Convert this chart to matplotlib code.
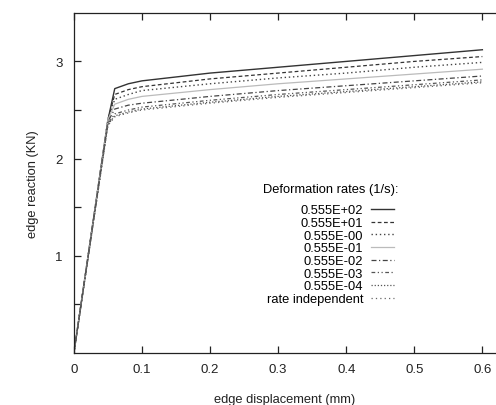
import numpy as np
import matplotlib
matplotlib.use("Agg")
import matplotlib.pyplot as plt

plt.rcParams['font.family'] = ['Liberation Sans', 'DejaVu Sans']

# displacement (mm), shared by all curves
disp = [0, 0.05, 0.06, 0.08, 0.1, 0.2, 0.3, 0.4, 0.5, 0.6]

# edge reaction (KN) for every deformation rate
r_e02 = [0, 2.40, 2.72, 2.77, 2.80, 2.88, 2.94, 3.00, 3.06, 3.12]
r_e01 = [0, 2.40, 2.66, 2.71, 2.74, 2.82, 2.88, 2.94, 3.00, 3.05]
r_e00 = [0, 2.40, 2.61, 2.66, 2.70, 2.77, 2.83, 2.88, 2.94, 2.99]
r_em1 = [0, 2.40, 2.56, 2.61, 2.64, 2.71, 2.77, 2.82, 2.87, 2.92]
r_em2 = [0, 2.38, 2.51, 2.55, 2.57, 2.64, 2.70, 2.75, 2.80, 2.85]
r_em3 = [0, 2.36, 2.46, 2.50, 2.53, 2.60, 2.66, 2.71, 2.76, 2.81]
r_em4 = [0, 2.35, 2.44, 2.48, 2.51, 2.58, 2.64, 2.69, 2.74, 2.79]
r_ind = [0, 2.34, 2.43, 2.47, 2.50, 2.57, 2.63, 2.68, 2.73, 2.78]

labels = ['0.555E+02', '0.555E+01', '0.555E-00', '0.555E-01',
          '0.555E-02', '0.555E-03', '0.555E-04', 'rate independent']

xticks = [0, 0.1, 0.2, 0.3, 0.4, 0.5, 0.6]
xticklabels = ['0', '0.1', '0.2', '0.3', '0.4', '0.5', '0.6']
yticks = [0.5, 1, 1.5, 2, 2.5, 3]
yticklabels = ['', '1', '', '2', '', '3']

series = [r_e02, r_e01, r_e00, r_em1, r_em2, r_em3, r_em4, r_ind]
styles = [
    dict(color='#333333', ls='-', lw=1.0),
    dict(color='#333333', ls=(0, (3, 2)), lw=0.9),
    dict(color='#444444', ls=(0, (1, 2)), lw=1.0),
    dict(color='#bbbbbb', ls='-', lw=0.9),
    dict(color='#444444', ls=(0, (4, 2, 1, 2)), lw=0.9),
    dict(color='#555555', ls=(0, (3, 2, 1, 2, 1, 2)), lw=0.9),
    dict(color='#555555', ls=(0, (1, 1.5)), lw=0.9),
    dict(color='#666666', ls=(0, (1, 2.5)), lw=0.9),
]

fig = plt.figure(figsize=(4.96, 4.06), dpi=100)
ax = fig.add_axes([0.149, 0.128, 0.851, 0.838])

for y, lab, st in zip(series, labels, styles):
    ax.plot(disp, y, label=lab, **st)

ax.set_xlim(0, 0.62)
ax.set_ylim(0, 3.5)
ax.set_xticks(xticks)
ax.set_xticklabels(xticklabels)
ax.set_yticks(yticks)
ax.set_yticklabels(yticklabels)
ax.tick_params(direction='in', length=5, width=0.9, top=True, labelsize=9.5,
               colors='#222222')
ax.tick_params(axis='x', pad=7)
ax.tick_params(axis='y', pad=8)
ax.spines['right'].set_visible(False)
for s in ['left', 'bottom', 'top']:
    ax.spines[s].set_linewidth(0.9)
    ax.spines[s].set_color('#222222')

ax.set_xlabel('edge displacement (mm)', fontsize=9.3, labelpad=13, color='#222222')
ax.set_ylabel('edge reaction (KN)', fontsize=9.3, labelpad=12, color='#222222')

leg = ax.legend(title='Deformation rates (1/s):', markerfirst=False,
                frameon=False, fontsize=9.3, title_fontsize=9.3,
                handlelength=1.8, handletextpad=0.6, labelspacing=0.05,
                borderpad=0, loc='upper right', bbox_to_anchor=(0.784, 0.52))
# more room between the title and the entries
leg._legend_box.sep = 7

fig.savefig('out.png', dpi=100)
